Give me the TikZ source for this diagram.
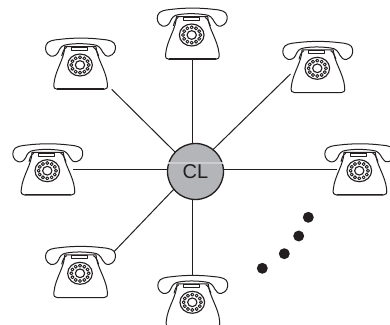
\documentclass[tikz,border=0pt]{standalone}
\usepackage{fontspec}
\setmainfont{Liberation Sans}
\usetikzlibrary{calc,backgrounds}
\definecolor{ink}{HTML}{231F20}
\definecolor{disc}{HTML}{B4B5B8}
\definecolor{strip}{HTML}{CDCDD0}
\tikzset{
  wire/.style={draw=ink,line width=0.75pt},
  dot/.style={circle,fill=ink,inner sep=0pt,minimum size=8.2pt},
  hub/.style={circle,draw=ink,line width=1pt,fill=disc,inner sep=0pt,minimum size=42pt,font=\fontsize{15}{15}\selectfont,text=ink},
  phone/.pic={
    \begin{scope}[x=.25pt,y=-.25pt,shift={(-150,-105)},draw=ink,line width=.75pt,line join=round]
      % body
      \draw[fill=white] (104,50) .. controls (104,85) and (76,120) .. (72,160)
        .. controls (70,174) and (74,178) .. (82,178) -- (222,178)
        .. controls (230,178) and (234,174) .. (232,160)
        .. controls (228,120) and (200,85) .. (198,50) -- cycle;
      \draw[line width=1.1pt] (82,177) -- (222,177);
      % handset
      \draw[fill=white] (62,78) .. controls (48,72) and (44,58) .. (48,46)
        .. controls (52,32) and (70,30) .. (90,28)
        .. controls (130,23) and (175,23) .. (215,28)
        .. controls (240,30) and (254,34) .. (256,48)
        .. controls (258,62) and (252,74) .. (238,78)
        .. controls (228,80) and (222,74) .. (218,66)
        .. controls (212,54) and (205,45) .. (190,44)
        .. controls (160,40) and (135,40) .. (110,44)
        .. controls (95,46) and (90,54) .. (85,66)
        .. controls (80,76) and (72,80) .. (62,78) -- cycle;
      % necks
      \draw (110,52) .. controls (102,56) and (98,66) .. (95,78);
      \draw (190,52) .. controls (198,56) and (202,66) .. (206,78);
      % cradle
      \draw[fill=white] (125,52) -- (172,52) -- (172,62) -- (125,62) -- cycle;
      % dial
      \draw[fill=white,line width=.85pt] (150,105) ellipse [x radius=37,y radius=33];
      \draw[line width=.85pt] (150,105) ellipse [x radius=14,y radius=13];
      \foreach \a in {0,30,...,330}
        \draw[line width=.7pt,fill=white] ({150+26*cos(\a)},{105+23*sin(\a)}) circle [radius=4.6];
    \end{scope}
  }
}
\begin{document}
\begin{tikzpicture}[x=.75pt,y=-.75pt]
  \useasboundingbox (0,0) rectangle (390,325);
  \node[hub] (cl) at (195.5,171.5) {CL};
  \coordinate (centre) at (192.7,169.5);
  \coordinate (etop) at (192.7,58);
  \coordinate (eul) at (111.7,89.3);
  \coordinate (eur) at (290.5,74);
  \coordinate (el) at (73,169.5);
  \coordinate (er) at (337,169.5);
  \coordinate (ell) at (114,251.7);
  \coordinate (eb) at (192.7,278);
  \begin{scope}[on background layer]
    \foreach \e in {etop,eul,eur,el,er,ell,eb}
      \draw[wire] (\e) -- (centre);
  \end{scope}
  \draw[strip,line width=1pt] ($(cl.center)+(-27.8,-8.5)$) -- ($(cl.center)+(27.8,-8.5)$);
  \pic (ptop) at (191.7,35) {phone};
  \pic (pul) at (80,65) {phone};
  \pic (pur) at (317.3,68.3) {phone};
  \pic (pl) at (47.3,170.7) {phone};
  \pic (pr) at (359.3,170.7) {phone};
  \pic (pll) at (80,273.3) {phone};
  \pic (pb) at (192.3,302.3) {phone};
  \node[dot] (d1) at (308.3,217.3) {};
  \node[dot] (d2) at (298.7,236) {};
  \node[dot] (d3) at (284.3,253.7) {};
  \node[dot] (d4) at (262.3,268.3) {};
\end{tikzpicture}
\end{document}
